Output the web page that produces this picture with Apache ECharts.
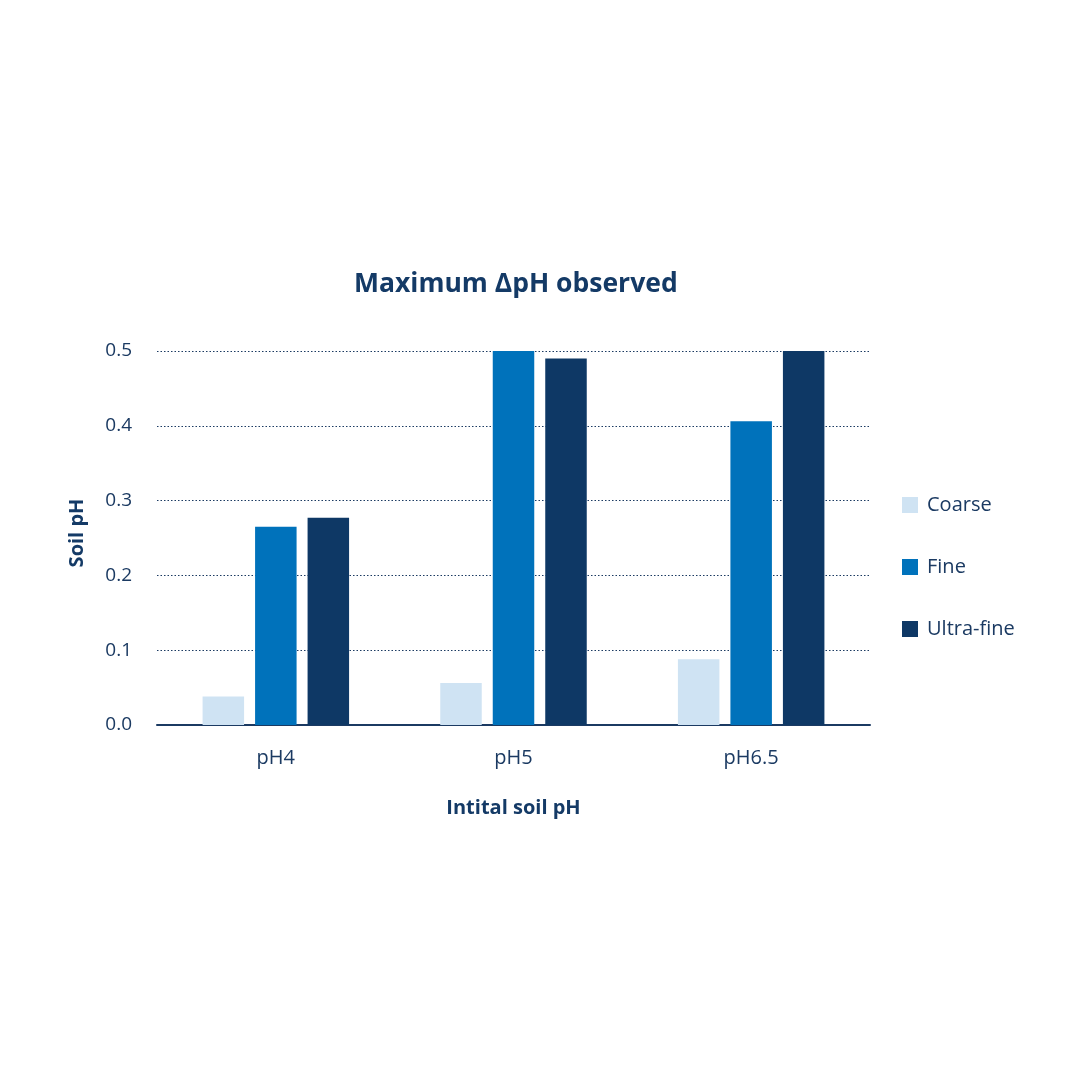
<!DOCTYPE html>
<html><head><meta charset="utf-8">
<script src="https://cdn.jsdelivr.net/npm/echarts@6/dist/echarts.min.js"></script>
<style>html,body{margin:0;padding:0;background:#fff}#c{width:1080px;height:1080px}</style>
</head><body><div id="c"></div>
<script>
const categories = ['pH4', 'pH5', 'pH6.5'];
const coarse = [0.038, 0.056, 0.088];
const fine = [0.265, 0.5, 0.406];
const ultraFine = [0.277, 0.49, 0.5];
const seriesNames = ['Coarse', 'Fine', 'Ultra-fine'];
const yTicks = [0, 0.1, 0.2, 0.3, 0.4, 0.5];

const textColor = '#1b3a62';
const font = 'Open Sans';
const chart = echarts.init(document.getElementById('c'));
chart.setOption({
  animation: false,
  backgroundColor: '#ffffff',
  title: {
    text: 'Maximum ΔpH observed',
    left: 354, top: 271, padding: 0,
    textStyle: { fontFamily: font, fontSize: 26.5, fontWeight: 'bold', color: '#143a66' }
  },
  legend: {
    orient: 'vertical', left: 902, top: 495, padding: 0,
    itemWidth: 16, itemHeight: 16, itemGap: 42,
    icon: 'rect',
    textStyle: { fontFamily: font, fontSize: 20, color: textColor, padding: [0, 0, 0, 4] },
    data: seriesNames
  },
  grid: { left: 157, right: 210, top: 351, bottom: 355, containLabel: false },
  xAxis: {
    type: 'category', data: categories,
    axisLine: { lineStyle: { color: '#1b3a62', width: 2 } },
    axisTick: { show: false },
    axisLabel: { fontFamily: font, fontSize: 20, color: textColor, margin: 23 },
    name: 'Intital soil pH', nameLocation: 'middle', nameGap: 73,
    nameTextStyle: { fontFamily: font, fontSize: 20, fontWeight: 'bold', color: '#143a66' }
  },
  yAxis: {
    type: 'value', min: 0, max: 0.5, interval: 0.1,
    axisLine: { show: false }, axisTick: { show: false },
    axisLabel: { fontFamily: font, fontSize: 19, color: textColor, margin: 25,
      formatter: v => yTicks.includes(Math.round(v*10)/10) ? v.toFixed(1) : '' },
    splitLine: { lineStyle: { color: '#1b3a62', type: [1.5, 2], width: 1.2 } },
    name: 'Soil pH', nameLocation: 'middle', nameGap: 70, nameRotate: 90,
    nameTextStyle: { fontFamily: font, fontSize: 20, fontWeight: 'bold', color: '#143a66', padding: [0, 0, 0, 10] }
  },
  series: [
    { name: seriesNames[0], type: 'bar', data: coarse, barWidth: 41.5, barGap: '26.5%', itemStyle: { color: '#cfe3f3' } },
    { name: seriesNames[1], type: 'bar', data: fine, barWidth: 41.5, barGap: '26.5%', itemStyle: { color: '#0072bb' } },
    { name: seriesNames[2], type: 'bar', data: ultraFine, barWidth: 41.5, barGap: '26.5%', itemStyle: { color: '#0e3865' } }
  ]
});
</script></body></html>
